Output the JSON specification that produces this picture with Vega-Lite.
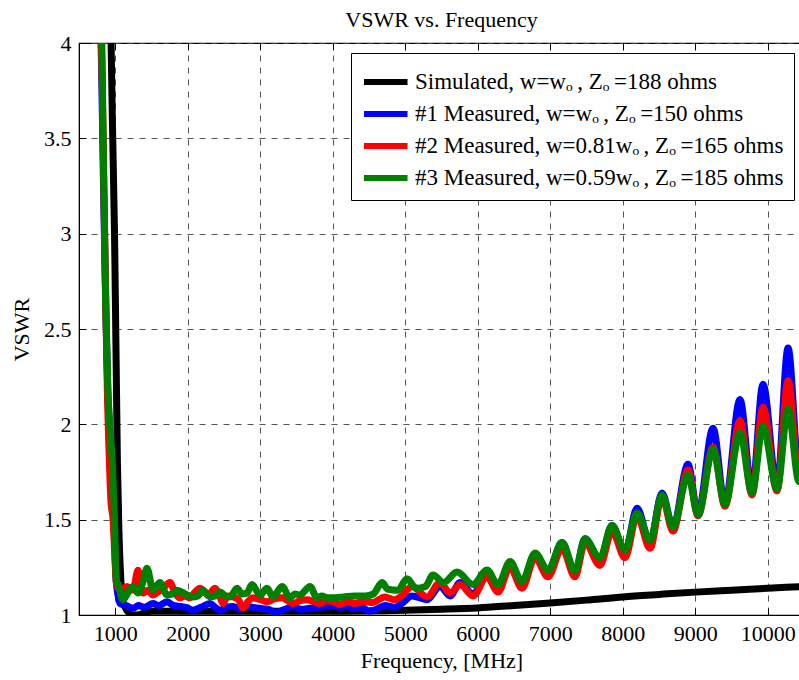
{
"$schema":"https://vega.github.io/schema/vega-lite/v6.json",
"width":725,"height":572,
"autosize":{"type":"none"},
"padding":{"left":79,"top":43,"right":0,"bottom":65},
"title":{"text":"VSWR vs. Frequency","font":"Liberation Serif","fontSize":22,"fontWeight":"normal","color":"black","offset":0},
"config":{
"view":{"stroke":"black","strokeWidth":1.2},
"axis":{"labelFont":"Liberation Serif","labelFontSize":22,"labelColor":"black","titleFont":"Liberation Serif","titleFontSize":22,"titleFontWeight":"normal","titleColor":"black","domainColor":"black","tickColor":"black","tickSize":-7,"gridColor":"#444","gridDash":[6,6],"gridOpacity":0.9,"labelPadding":15},
"legend":{"orient":"top-right","offset":10,"padding":10,"strokeColor":"black","fillColor":"white","cornerRadius":0,"symbolType":"M-1.0,0L1.72,0","symbolSize":1024,"symbolStrokeWidth":6,"labelOffset":16,"labelFont":"Liberation Serif","labelFontSize":23,"labelColor":"black","labelLimit":0,"rowPadding":1}
},
"data":{"values":[
{"s":"S","f":850,"v":6},{"s":"S","f":930,"v":4.3},{"s":"S","f":960,"v":3.6},{"s":"S","f":990,"v":3.0},{"s":"S","f":1010,"v":2.4},{"s":"S","f":1030,"v":1.8},{"s":"S","f":1050,"v":1.45},{"s":"S","f":1075,"v":1.2},{"s":"S","f":1100,"v":1.08},{"s":"S","f":1150,"v":1.03},{"s":"S","f":1250,"v":1.0},{"s":"S","f":1300,"v":1.0},{"s":"S","f":1400,"v":1.01},{"s":"S","f":1500,"v":1.02},{"s":"S","f":2000,"v":1.02},{"s":"S","f":3000,"v":1.02},{"s":"S","f":4000,"v":1.02},{"s":"S","f":5000,"v":1.025},{"s":"S","f":5500,"v":1.03},{"s":"S","f":6000,"v":1.037},{"s":"S","f":6500,"v":1.05},{"s":"S","f":7000,"v":1.063},{"s":"S","f":7500,"v":1.078},{"s":"S","f":8000,"v":1.095},{"s":"S","f":8500,"v":1.108},{"s":"S","f":9000,"v":1.12},{"s":"S","f":9500,"v":1.13},{"s":"S","f":10000,"v":1.14},{"s":"S","f":10500,"v":1.15},

{"s":"1","f":780,"v":4.3},{"s":"1","f":810,"v":3.9},{"s":"1","f":840,"v":3.2},{"s":"1","f":870,"v":2.6},{"s":"1","f":895,"v":2.2},{"s":"1","f":925,"v":1.95},{"s":"1","f":960,"v":1.7},{"s":"1","f":990,"v":1.4},{"s":"1","f":1010,"v":1.2},{"s":"1","f":1040,"v":1.1},{"s":"1","f":1065,"v":1.06},{"s":"1","f":1150,"v":1.05},{"s":"1","f":1245,"v":1.035},{"s":"1","f":1320,"v":1.05},{"s":"1","f":1400,"v":1.04},{"s":"1","f":1521,"v":1.06},{"s":"1","f":1600,"v":1.05},{"s":"1","f":1714,"v":1.07},{"s":"1","f":1800,"v":1.05},{"s":"1","f":1893,"v":1.045},{"s":"1","f":1980,"v":1.04},{"s":"1","f":2072,"v":1.025},{"s":"1","f":2180,"v":1.04},{"s":"1","f":2307,"v":1.06},{"s":"1","f":2380,"v":1.04},{"s":"1","f":2445,"v":1.025},{"s":"1","f":2530,"v":1.04},{"s":"1","f":2624,"v":1.045},{"s":"1","f":2720,"v":1.03},{"s":"1","f":2818,"v":1.045},{"s":"1","f":2900,"v":1.04},{"s":"1","f":2997,"v":1.035},{"s":"1","f":3100,"v":1.03},{"s":"1","f":3231,"v":1.015},{"s":"1","f":3340,"v":1.03},{"s":"1","f":3452,"v":1.045},{"s":"1","f":3560,"v":1.03},{"s":"1","f":3686,"v":1.035},{"s":"1","f":3800,"v":1.04},{"s":"1","f":3921,"v":1.045},{"s":"1","f":4000,"v":1.05},{"s":"1","f":4100,"v":1.04},{"s":"1","f":4200,"v":1.045},{"s":"1","f":4300,"v":1.035},{"s":"1","f":4400,"v":1.04},{"s":"1","f":4500,"v":1.02},{"s":"1","f":4600,"v":1.03},{"s":"1","f":4720,"v":1.05},{"s":"1","f":4850,"v":1.04},{"s":"1","f":4950,"v":1.06},{"s":"1","f":5093,"v":1.10},{"s":"1","f":5300,"v":1.08},{"s":"1","f":5480,"v":1.15},{"s":"1","f":5620,"v":1.10},{"s":"1","f":5755,"v":1.17},{"s":"1","f":5935,"v":1.11},{"s":"1","f":6128,"v":1.22},{"s":"1","f":6279,"v":1.14},{"s":"1","f":6445,"v":1.27},{"s":"1","f":6610,"v":1.16},{"s":"1","f":6790,"v":1.32},{"s":"1","f":6969,"v":1.22},{"s":"1","f":7162,"v":1.38},{"s":"1","f":7341,"v":1.22},{"s":"1","f":7479,"v":1.40},{"s":"1","f":7686,"v":1.28},{"s":"1","f":7852,"v":1.47},{"s":"1","f":8031,"v":1.33},{"s":"1","f":8197,"v":1.56},{"s":"1","f":8376,"v":1.38},{"s":"1","f":8541,"v":1.64},{"s":"1","f":8693,"v":1.46},{"s":"1","f":8900,"v":1.79},{"s":"1","f":9038,"v":1.53},{"s":"1","f":9245,"v":1.98},{"s":"1","f":9410,"v":1.58},{"s":"1","f":9617,"v":2.13},{"s":"1","f":9783,"v":1.65},{"s":"1","f":9934,"v":2.21},{"s":"1","f":10128,"v":1.67},{"s":"1","f":10280,"v":2.40},{"s":"1","f":10431,"v":1.75},{"s":"1","f":10500,"v":1.85},

{"s":"2","f":790,"v":4.3},{"s":"2","f":820,"v":3.8},{"s":"2","f":850,"v":3.1},{"s":"2","f":862,"v":2.8},{"s":"2","f":875,"v":2.5},{"s":"2","f":895,"v":2.1},{"s":"2","f":915,"v":1.85},{"s":"2","f":940,"v":1.6},{"s":"2","f":970,"v":1.5},{"s":"2","f":995,"v":1.3},{"s":"2","f":1015,"v":1.17},{"s":"2","f":1060,"v":1.13},{"s":"2","f":1160,"v":1.15},{"s":"2","f":1245,"v":1.13},{"s":"2","f":1314,"v":1.235},{"s":"2","f":1383,"v":1.115},{"s":"2","f":1450,"v":1.13},{"s":"2","f":1521,"v":1.105},{"s":"2","f":1590,"v":1.12},{"s":"2","f":1659,"v":1.14},{"s":"2","f":1755,"v":1.17},{"s":"2","f":1820,"v":1.12},{"s":"2","f":1893,"v":1.09},{"s":"2","f":1960,"v":1.10},{"s":"2","f":2030,"v":1.09},{"s":"2","f":2100,"v":1.12},{"s":"2","f":2169,"v":1.14},{"s":"2","f":2279,"v":1.105},{"s":"2","f":2376,"v":1.14},{"s":"2","f":2440,"v":1.10},{"s":"2","f":2486,"v":1.06},{"s":"2","f":2550,"v":1.10},{"s":"2","f":2624,"v":1.095},{"s":"2","f":2700,"v":1.08},{"s":"2","f":2762,"v":1.035},{"s":"2","f":2830,"v":1.07},{"s":"2","f":2900,"v":1.09},{"s":"2","f":3000,"v":1.08},{"s":"2","f":3093,"v":1.07},{"s":"2","f":3200,"v":1.085},{"s":"2","f":3300,"v":1.09},{"s":"2","f":3380,"v":1.075},{"s":"2","f":3452,"v":1.06},{"s":"2","f":3550,"v":1.075},{"s":"2","f":3645,"v":1.08},{"s":"2","f":3740,"v":1.07},{"s":"2","f":3824,"v":1.06},{"s":"2","f":3900,"v":1.075},{"s":"2","f":4000,"v":1.07},{"s":"2","f":4100,"v":1.055},{"s":"2","f":4200,"v":1.07},{"s":"2","f":4300,"v":1.06},{"s":"2","f":4417,"v":1.07},{"s":"2","f":4550,"v":1.065},{"s":"2","f":4720,"v":1.095},{"s":"2","f":4850,"v":1.08},{"s":"2","f":4950,"v":1.10},{"s":"2","f":5093,"v":1.15},{"s":"2","f":5300,"v":1.095},{"s":"2","f":5480,"v":1.17},{"s":"2","f":5620,"v":1.115},{"s":"2","f":5755,"v":1.16},{"s":"2","f":5935,"v":1.10},{"s":"2","f":6128,"v":1.20},{"s":"2","f":6279,"v":1.12},{"s":"2","f":6445,"v":1.25},{"s":"2","f":6610,"v":1.14},{"s":"2","f":6790,"v":1.30},{"s":"2","f":6969,"v":1.20},{"s":"2","f":7162,"v":1.35},{"s":"2","f":7341,"v":1.20},{"s":"2","f":7479,"v":1.38},{"s":"2","f":7686,"v":1.26},{"s":"2","f":7852,"v":1.44},{"s":"2","f":8031,"v":1.30},{"s":"2","f":8197,"v":1.52},{"s":"2","f":8376,"v":1.35},{"s":"2","f":8541,"v":1.62},{"s":"2","f":8693,"v":1.44},{"s":"2","f":8900,"v":1.76},{"s":"2","f":9038,"v":1.52},{"s":"2","f":9245,"v":1.88},{"s":"2","f":9410,"v":1.57},{"s":"2","f":9617,"v":2.02},{"s":"2","f":9783,"v":1.63},{"s":"2","f":9934,"v":2.09},{"s":"2","f":10128,"v":1.65},{"s":"2","f":10280,"v":2.23},{"s":"2","f":10431,"v":1.72},{"s":"2","f":10500,"v":1.8},

{"s":"3","f":800,"v":4.3},{"s":"3","f":815,"v":4.0},{"s":"3","f":840,"v":3.3},{"s":"3","f":870,"v":2.6},{"s":"3","f":900,"v":2.17},{"s":"3","f":930,"v":1.97},{"s":"3","f":960,"v":1.8},{"s":"3","f":985,"v":1.55},{"s":"3","f":1000,"v":1.35},{"s":"3","f":1015,"v":1.18},{"s":"3","f":1040,"v":1.16},{"s":"3","f":1107,"v":1.08},{"s":"3","f":1180,"v":1.12},{"s":"3","f":1245,"v":1.15},{"s":"3","f":1314,"v":1.115},{"s":"3","f":1380,"v":1.17},{"s":"3","f":1438,"v":1.245},{"s":"3","f":1521,"v":1.13},{"s":"3","f":1617,"v":1.17},{"s":"3","f":1714,"v":1.105},{"s":"3","f":1790,"v":1.11},{"s":"3","f":1852,"v":1.13},{"s":"3","f":1920,"v":1.12},{"s":"3","f":1990,"v":1.105},{"s":"3","f":2072,"v":1.095},{"s":"3","f":2140,"v":1.1},{"s":"3","f":2210,"v":1.13},{"s":"3","f":2307,"v":1.095},{"s":"3","f":2380,"v":1.10},{"s":"3","f":2445,"v":1.12},{"s":"3","f":2520,"v":1.10},{"s":"3","f":2583,"v":1.095},{"s":"3","f":2680,"v":1.14},{"s":"3","f":2750,"v":1.11},{"s":"3","f":2818,"v":1.115},{"s":"3","f":2886,"v":1.16},{"s":"3","f":2997,"v":1.105},{"s":"3","f":3093,"v":1.14},{"s":"3","f":3176,"v":1.095},{"s":"3","f":3300,"v":1.15},{"s":"3","f":3410,"v":1.09},{"s":"3","f":3480,"v":1.11},{"s":"3","f":3548,"v":1.105},{"s":"3","f":3686,"v":1.15},{"s":"3","f":3783,"v":1.09},{"s":"3","f":3850,"v":1.10},{"s":"3","f":3921,"v":1.09},{"s":"3","f":4000,"v":1.09},{"s":"3","f":4150,"v":1.095},{"s":"3","f":4300,"v":1.10},{"s":"3","f":4450,"v":1.10},{"s":"3","f":4560,"v":1.11},{"s":"3","f":4680,"v":1.17},{"s":"3","f":4760,"v":1.135},{"s":"3","f":4900,"v":1.13},{"s":"3","f":5024,"v":1.19},{"s":"3","f":5150,"v":1.14},{"s":"3","f":5280,"v":1.15},{"s":"3","f":5383,"v":1.21},{"s":"3","f":5530,"v":1.17},{"s":"3","f":5714,"v":1.225},{"s":"3","f":5935,"v":1.16},{"s":"3","f":6128,"v":1.236},{"s":"3","f":6279,"v":1.16},{"s":"3","f":6445,"v":1.28},{"s":"3","f":6610,"v":1.175},{"s":"3","f":6790,"v":1.325},{"s":"3","f":6969,"v":1.235},{"s":"3","f":7162,"v":1.38},{"s":"3","f":7341,"v":1.23},{"s":"3","f":7479,"v":1.40},{"s":"3","f":7686,"v":1.30},{"s":"3","f":7852,"v":1.47},{"s":"3","f":8031,"v":1.34},{"s":"3","f":8197,"v":1.535},{"s":"3","f":8376,"v":1.39},{"s":"3","f":8541,"v":1.63},{"s":"3","f":8693,"v":1.46},{"s":"3","f":8900,"v":1.735},{"s":"3","f":9038,"v":1.525},{"s":"3","f":9245,"v":1.87},{"s":"3","f":9410,"v":1.58},{"s":"3","f":9617,"v":1.955},{"s":"3","f":9783,"v":1.64},{"s":"3","f":9934,"v":1.99},{"s":"3","f":10128,"v":1.66},{"s":"3","f":10280,"v":2.08},{"s":"3","f":10431,"v":1.70},{"s":"3","f":10500,"v":1.75}
]},
"resolve":{"axis":{"x":"independent"}},
"layer":[
{"transform":[{"filter":"datum.s==='S'"}],
"mark":{"type":"line","strokeWidth":7,"clip":true,"interpolate":"monotone","strokeCap":"round","strokeJoin":"round"},
"encoding":{
"x":{"field":"f","type":"quantitative","scale":{"domain":[500,10500],"nice":false},"axis":{"values":[1000,2000,3000,4000,5000,6000,7000,8000,9000,10000],"format":"d","title":"Frequency, [MHz]","titlePadding":6}},
"y":{"field":"v","type":"quantitative","scale":{"domain":[1,4],"nice":false,"zero":false},"axis":{"values":[1,1.5,2,2.5,3,3.5,4],"labelExpr":"''+datum.value","title":"VSWR","titlePadding":10}},
"color":{"field":"s","type":"nominal","scale":{"domain":["S","1","2","3"],"range":["#000000","#0000ff","#ff0000","#008000"]},"legend":{"title":null,"labelExpr":"datum.label==='S'?'Simulated, w=wₒ\u2009, Zₒ\u2009=188 ohms':datum.label==='1'?'#1 Measured, w=wₒ\u2009, Zₒ\u2009=150 ohms':datum.label==='2'?'#2 Measured, w=0.81wₒ\u2009, Zₒ\u2009=165 ohms':'#3 Measured, w=0.59wₒ\u2009, Zₒ\u2009=185 ohms'"}}
}},
{"transform":[{"filter":"datum.s==='1'"}],
"mark":{"type":"line","strokeWidth":7,"clip":true,"interpolate":"monotone","strokeCap":"round","strokeJoin":"round"},
"encoding":{
"x":{"field":"f","type":"quantitative","scale":{"domain":[500,10500],"nice":false},"axis":{"orient":"top","values":[1000,2000,3000,4000,5000,6000,7000,8000,9000,10000],"labels":false,"title":null,"grid":false,"domain":false}},
"y":{"field":"v","type":"quantitative"},
"color":{"field":"s","type":"nominal"}
}},
{"transform":[{"filter":"datum.s==='2'"}],
"mark":{"type":"line","strokeWidth":7,"clip":true,"interpolate":"monotone","strokeCap":"round","strokeJoin":"round"},
"encoding":{
"x":{"field":"f","type":"quantitative","axis":null},
"y":{"field":"v","type":"quantitative"},
"color":{"field":"s","type":"nominal"}
}},
{"transform":[{"filter":"datum.s==='3'"}],
"mark":{"type":"line","strokeWidth":7,"clip":true,"interpolate":"monotone","strokeCap":"round","strokeJoin":"round"},
"encoding":{
"x":{"field":"f","type":"quantitative","axis":null},
"y":{"field":"v","type":"quantitative"},
"color":{"field":"s","type":"nominal"}
}}
]
}
